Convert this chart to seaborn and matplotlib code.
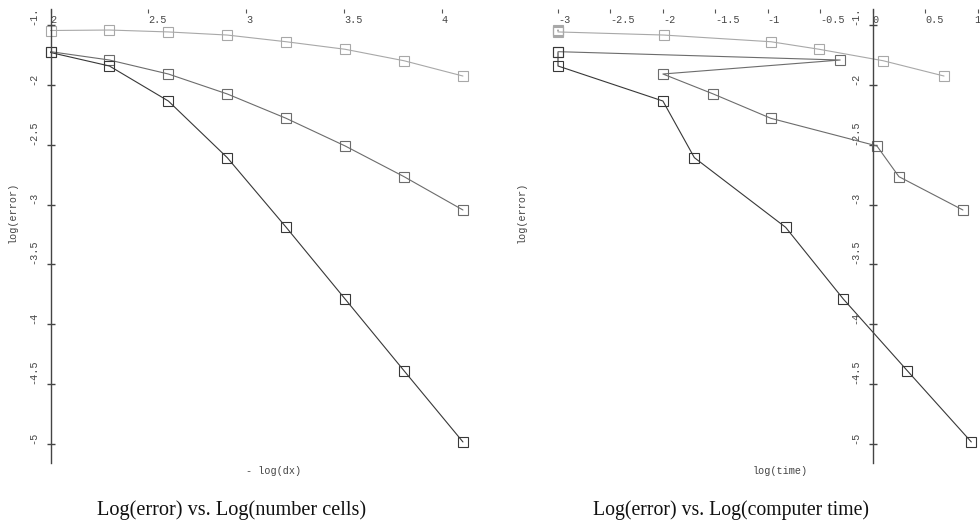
import numpy as np
import pandas as pd
import matplotlib
matplotlib.use("Agg")
import matplotlib.pyplot as plt
import seaborn as sns
from matplotlib.ticker import FuncFormatter, FixedLocator

# ---------------- data ----------------
log_cells = [2.0, 2.301, 2.602, 2.903, 3.204, 3.505, 3.806, 4.107]

err_light = [-1.544, -1.540, -1.556, -1.582, -1.638, -1.701, -1.797, -1.925]
err_medium = [-1.721, -1.791, -1.908, -2.075, -2.279, -2.510, -2.767, -3.046]
err_dark = [-1.728, -1.841, -2.134, -2.608, -3.191, -3.791, -4.391, -4.987]

time_light = [-3.0, -3.0, -3.0, -1.99, -0.97, -0.51, 0.10, 0.68]
time_medium = [-3.0, -0.31, -2.0, -1.52, -0.97, 0.04, 0.25, 0.86]
time_dark = [-3.0, -3.0, -2.0, -1.70, -0.83, -0.28, 0.33, 0.94]

series_names = ["light", "medium", "dark"]
series_colors = ["#a8a8a8", "#6c6c6c", "#383838"]

left_xticks = [2, 2.5, 3, 3.5, 4]
right_xticks = [-3, -2.5, -2, -1.5, -1, -0.5, 0, 0.5, 1]
yticks = [-5, -4.5, -4, -3.5, -3, -2.5, -2, -1.5]

left_title = "Log(error) vs. Log(number cells)"
right_title = "Log(error) vs. Log(computer time)"
left_xlabel = "- log(dx)"
right_xlabel = "log(time)"
ylabel_text = "log(error)"

# ---------------- frames ----------------
errs = [err_light, err_medium, err_dark]
times = [time_light, time_medium, time_dark]
df_left = pd.concat([pd.DataFrame({"x": log_cells, "y": e, "series": n, "order": range(len(e))})
                     for e, n in zip(errs, series_names)], ignore_index=True)
df_right = pd.concat([pd.DataFrame({"x": t, "y": e, "series": n, "order": range(len(e))})
                      for t, e, n in zip(times, errs, series_names)], ignore_index=True)

sns.set_style("white")
plt.rcParams["axes.unicode_minus"] = False
MONO = "Liberation Mono"
TXT = "#444444"

W, H = 980, 529
fig = plt.figure(figsize=(W / 100, H / 100), dpi=100)
top_px, bot_px = 9, 463
ax_b = (H - bot_px) / H
ax_h = (bot_px - top_px) / H
axL = fig.add_axes([0.0, ax_b, 0.5, ax_h])
axR = fig.add_axes([0.5, ax_b, 0.5, ax_h])

ylim = (-2 - (bot_px - 85) / 119.5, -2 - (top_px - 85) / 119.5)


def draw(ax, df, xlim, xticks, spine_x, xlabel, xlabel_px, ylabel_px):
    for name, col in zip(series_names, series_colors):
        sub = df[df["series"] == name].sort_values("order")
        sns.lineplot(data=sub, x="x", y="y", ax=ax, sort=False, estimator=None,
                     color=col, lw=0.8, marker="s", ms=6.7, mfc="none",
                     mec=col, mew=0.8, legend=False)
    ax.set_xlim(*xlim)
    ax.set_ylim(*ylim)
    for s in ["top", "right", "bottom"]:
        ax.spines[s].set_visible(False)
    ax.spines["left"].set_position(("data", spine_x))
    ax.spines["left"].set_color("#444444")
    ax.spines["left"].set_linewidth(1.0)
    ax.patch.set_alpha(0)

    fmt = FuncFormatter(lambda v, p: "%g" % v)
    ax.xaxis.set_major_locator(FixedLocator(xticks))
    ax.yaxis.set_major_locator(FixedLocator(yticks))
    ax.xaxis.set_major_formatter(fmt)
    ax.yaxis.set_major_formatter(fmt)

    ax.tick_params(axis="x", top=True, bottom=False, labeltop=True, labelbottom=False,
                   direction="in", length=3.0, width=0.8, color="#555555",
                   pad=-4.0, labelsize=7.3, labelcolor=TXT)
    ax.tick_params(axis="y", left=True, right=False, direction="inout",
                   length=6.0, width=1.0, color="#444444", pad=6.0,
                   labelsize=7.3, labelcolor=TXT, labelrotation=90)
    for lab in ax.get_xticklabels():
        lab.set_fontfamily(MONO)
        lab.set_ha("left")
        lab.set_va("top")
    for lab in ax.get_yticklabels():
        lab.set_fontfamily(MONO)
        lab.set_va("bottom")
        lab.set_ha("right")
        lab.set_clip_on(True)
        lab.set_clip_box(ax.bbox)

    ax.set_xlabel(xlabel, family=MONO, fontsize=7.3, color=TXT, va="center")
    ax.xaxis.set_label_coords(xlabel_px / 490, (bot_px - 471) / (bot_px - top_px))
    ax.set_ylabel(ylabel_text, family=MONO, fontsize=7.3, color=TXT, va="center", rotation=90)
    ax.yaxis.set_label_coords(ylabel_px / 490, (bot_px - 212) / (bot_px - top_px))


xL = (2 - 50.5 / 195.75, 2 + 439.5 / 195.75)
xR = ((490 - 872.7) / 104.9, (980 - 872.7) / 104.9)
draw(axL, df_left, xL, left_xticks, 2, left_xlabel, 274, 13)
draw(axR, df_right, xR, right_xticks, 0, right_xlabel, 780 - 490, 522 - 490)

# keep the last tick label of the right panel inside the figure edge
axR.get_xticklabels()[-1].set_ha("center")

SERIF = "Liberation Serif"
fig.text(232 / W, 1 - 510 / H, left_title, ha="center", va="center",
         family=SERIF, fontsize=14.6, color="#111111")
fig.text(731 / W, 1 - 510 / H, right_title, ha="center", va="center",
         family=SERIF, fontsize=14.2, color="#111111")

fig.savefig("out.png", dpi=100)
